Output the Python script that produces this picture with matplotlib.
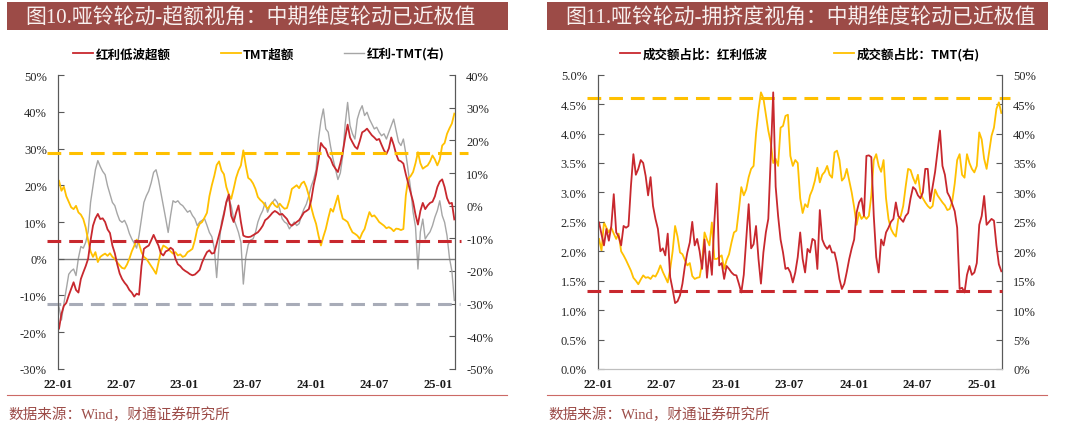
import matplotlib
matplotlib.use('Agg')
import matplotlib.pyplot as plt
from matplotlib.lines import Line2D
from matplotlib.patches import Rectangle
import pandas as pd

plt.rcParams['font.family'] = ['Liberation Serif', 'Noto Sans CJK SC', 'DejaVu Sans']
plt.rcParams['axes.unicode_minus'] = False

# ── data (weekly) ────────────────────────────────────────────────────────────

start_date = '2022-01-04'

# 图10: 超额 (%)
div_excess = [
    -19, -15, -12.8, -12, -10, -8.2, -6.4, -8.5, -9.2, -5.5,
    -3.7, -2, 0, 5, 9, 11, 12.2, 10.8, 11, 10,
    8, 7, 3.6, 1.5, -1.5, -4, -5.5, -6.5, -7.3, -8.5,
    -9.2, -10.3, -9.5, -9.8, -2, 2.7, 3.2, 3.6, 5, 6.5,
    5, 3.6, 1.5, 0.9, 2, 2.3, 3, 2.5, 0, -1.5,
    -2, -2.8, -3.3, -3.7, -4.2, -4.5, -4.3, -3.7, -3, -1,
    0.5, 1.8, 2.3, 1.4, 1.6, 4, 6.5, 9, 12, 15.5,
    17.5, 11.7, 10, 12.5, 14.5, 10, 6.3, 6, 5.9, 6,
    6.4, 6.8, 7.2, 8, 9, 10.5, 11, 11.7, 12.5, 13,
    12.6, 12, 12.2, 11.5, 10.8, 9.5, 9, 9.5, 10, 10.5,
    11.5, 12.6, 13, 13.5, 16, 20, 23, 27, 31.5, 30.5,
    29.9, 28, 27.2, 25.5, 24.5, 23.6, 26, 29, 33, 36.5,
    33, 31.7, 30.5, 29.9, 32, 34.4, 34.8, 35.4, 34.5, 33.6,
    33, 32.3, 32.6, 31, 29.5, 28.5, 30, 33, 31, 28.5,
    26.8, 26.5, 25.9, 23, 20.5, 18, 15.5, 12, 9.3, 13,
    15.2, 13.5, 14.5, 15.2, 15.5, 17, 19.5, 21, 21.6, 19.5,
    16.5, 15, 15.2, 10.7,
]
tmt_excess = [
    21.2, 18.5, 19.6, 17, 15.5, 14, 13.5, 14.4, 12.6, 12,
    10.8, 8.5, 5, 2, 0.5, 1.8, -0.9, 0.5, 1, 1.4,
    0.8, 1.5, 0.5, 0, -1, -1.8, -2.5, -2.7, -1.6, 0,
    2, 3.5, 5.2, 4, 1.8, 0.5, 0, -1, -2, -3,
    -4.1, -1, 2, 3.6, 3.2, 2.7, 2, 1.4, 1.8, 0.9,
    1.2, 0.5, 0.8, 1.8, 2.2, 2.7, 5, 8.1, 9.5, 10,
    11.2, 12.5, 17, 20, 22.5, 25.5, 26.5, 24, 23, 19.5,
    17.5, 16.3, 19, 22, 24, 25.4, 29.5, 25.4, 22, 21.5,
    20.5, 19, 16.8, 16, 15.4, 14.5, 13.6, 14.5, 15.4, 14.5,
    14, 15, 14.2, 13.6, 13.8, 16, 19, 19.5, 20, 19.2,
    20.5, 21, 19.5, 17.2, 14, 11.5, 9.5, 6.3, 3.6, 6,
    8.1, 11, 13.6, 12.8, 15, 17.2, 13.5, 10.9, 10.5, 10,
    8.5, 7.2, 6.8, 6.3, 5.4, 7, 8.1, 10.5, 12.7, 11.5,
    11.8, 11, 10, 9.5, 9, 8.3, 8.6, 8.2, 7.5, 8.2,
    8.1, 7.8, 8.1, 17.2, 21.8, 22.5, 23.6, 26, 29, 26,
    24.5, 25, 25.4, 26.5, 28.1, 27, 25.4, 27, 30.8, 31.5,
    34, 35.5, 36.8, 39.5,
]
div_minus_tmt = [
    -31, -35, -30, -25.5, -21, -20, -19.4, -21.4, -16, -12.5,
    -13, -11.2, -8, 1, 6.1, 11, 13.8, 12, 10.5, 9.5,
    6.1, 3.5, 1, 0, -2.5, -4.5, -5.1, -4.5, -6.1, -8.5,
    -10.2, -11.5, -13, -9, -4, 1, 3, 4.5, 7, 10.2,
    11, 8, 4, 0, -4, -8.2, -3, 1.5, 1, 1.5,
    0.5, 0, -1, -2, -1.5, -3, -4, -6.1, -5, -4.5,
    -4, -6, -8.2, -9.5, -13, -22, -12, -5, -2, 1,
    2, 0, -4, -6, -8.2, -11.2, -24, -15.9, -12, -10.5,
    -10.2, -8.2, -5, -3, -1.5, 1, -2, 0, 1, 2,
    1, -1, -4, -5, -5.5, -7.1, -6, -5, -6.1, -5.5,
    -3, -1, 0.5, 3, 6, 8, 11, 20.4, 26, 29.6,
    23.5, 22.5, 18, 14.3, 11.2, 8, 10, 15.3, 25, 31.6,
    24.5, 22, 20.4, 26.5, 29, 30.6, 27.6, 28.6, 26.5, 25,
    23.5, 24, 22.5, 21.4, 22, 20.4, 22.5, 24.5, 26.5, 23,
    19.5, 18.4, 20.4, 16, 10.5, 5.1, -2, -6.5, -19.4, -8,
    -4.1, -10.2, -9, -8, -6.1, -3.5, -1.5, 1.5, -3, -5.1,
    -9.2, -16, -20, -29,
]
# reference levels: TMT超额 high, 红利低波超额 low (left), 红利-TMT low (right)
lvl_tmt_excess = 28.7
lvl_div_excess = 4.9
lvl_spread = -30

# 图11: 成交额占比 (%)
div_share = [
    2.49, 2.29, 2.1, 2.38, 2.18, 2.43, 2.97, 2.32, 2.25, 2.1,
    2.43, 2.4, 2.43, 3.11, 3.65, 3.3, 3.4, 3.55, 3.5, 3.28,
    2.95, 3.26, 2.77, 2.55, 2.38, 2.0, 2.05, 1.93, 2.3, 1.56,
    1.35, 1.12, 1.15, 1.25, 1.45, 1.75, 1.98, 2.15, 2.5, 2.1,
    2.21, 2.0, 1.7, 2.2, 1.55, 2.0, 1.6, 2.5, 3.15, 1.76,
    1.8, 1.53, 1.75, 1.7, 1.64, 1.6, 1.59, 1.45, 1.3, 1.6,
    2.2, 2.8, 2.05, 2.12, 2.43, 1.87, 1.45, 1.98, 2.32, 2.55,
    3.6, 4.7, 3.1, 2.6, 2.2, 1.98, 1.7, 1.72, 1.64, 1.47,
    1.64, 1.9, 2.32, 1.87, 1.64, 2.04, 1.98, 2.21, 2.18, 1.7,
    2.7, 2.2, 2.1, 2.04, 2.1, 1.98, 1.98, 1.8, 1.53, 1.36,
    1.45, 1.65, 1.87, 2.05, 2.2, 2.66, 2.83, 2.9, 2.6, 3.62,
    3.63, 3.6, 2.6, 1.9, 1.64, 2.2, 2.1, 2.32, 2.4, 2.5,
    2.55, 2.83, 2.6, 2.55, 2.5, 2.6, 2.65, 2.9, 3.09, 3.05,
    2.95, 2.9, 3.0, 3.4, 3.4, 2.85, 3.1, 3.35, 3.7, 4.05,
    3.45, 3.3, 3.0, 2.92, 2.8, 2.68, 2.4, 1.36, 1.38, 1.3,
    1.6, 1.75, 1.6, 1.64, 1.8, 2.45, 2.6, 2.94, 2.45, 2.5,
    2.55, 2.52, 2.1, 1.78, 1.66,
]
tmt_share = [
    22.1, 20.1, 24.9, 24, 23.2, 24, 23, 22.1, 23, 20,
    19.3, 18.5, 17.6, 16.7, 15.5, 15, 14.4, 15.2, 15.9, 15.5,
    15.6, 15.3, 15.9, 15.7, 16.5, 17.6, 16.5, 15.6, 14.7, 17,
    20, 24.3, 22.5, 19.8, 19.5, 18.5, 17.6, 18, 15.8, 15.3,
    15.5, 15.6, 18, 23.2, 22, 21, 24.9, 18.7, 18.7, 19,
    19.3, 17, 18.5, 19.5, 21.5, 23.2, 23.5, 27, 30.9, 29.5,
    30.5, 32.6, 34, 34.5, 40, 44, 47, 46, 43.2, 40.5,
    38.5, 35, 35.7, 34.5, 41, 41.3, 43, 43.2, 36.2, 34.5,
    35.5, 35, 29, 26.5, 28, 27.5, 29.5, 30.5, 32, 34.2,
    31.7, 33, 33.5, 34.5, 33, 32.5, 36.8, 37.1, 35.5, 32,
    32.5, 34, 32, 30, 27.5, 24.5, 26.6, 25.5, 26, 25.5,
    26, 29.5, 35.5, 36.5, 34.5, 33.5, 35.5, 29, 25.5, 23.8,
    23, 22.5, 25.5, 26, 27.7, 31, 34, 33.8, 32.5, 31.5,
    33, 30, 29, 28.3, 27.7, 27.3, 27.7, 30.5, 29.5, 28.9,
    28.3, 27.8, 27, 27.2, 28.5, 31.5, 35.5, 36.5, 33, 32.5,
    36.5, 35, 34, 33.4, 34.5, 40.2, 39, 35.7, 34, 36.8,
    39.6, 41, 44.2, 45.3, 43.5,
]
lvl_div_share = 1.32
lvl_tmt_share = 46

tick_dates = ['2022-01-01', '2022-07-01', '2023-01-01', '2023-07-01',
              '2024-01-01', '2024-07-01', '2025-01-01']
tick_labels = ['22-01', '22-07', '23-01', '23-07', '24-01', '24-07', '25-01']

# ── style ────────────────────────────────────────────────────────────────────

RED = '#C8282E'
YELLOW = '#FFC000'
GRAY = '#A6A6A6'
DASH_GRAY = '#A8ACB8'
TITLE_BG = '#9C4B47'
SPINE = '#595959'
LEG_FONT = {'family': 'Noto Sans CJK SC', 'weight': 'bold', 'size': 9}


def frame(fig, x0, title):
    fig.add_artist(Rectangle((x0, 0.927), 0.464, 0.066, transform=fig.transFigure,
                             facecolor=TITLE_BG, edgecolor='none'))
    fig.text(x0 + 0.0166, 0.958, title, color='#F8F0EF', fontsize=15, va='center')
    fig.add_artist(Line2D([x0, x0 + 0.463], [0.0726, 0.0726], transform=fig.transFigure,
                          color='#CC6A66', lw=0.8))
    fig.text(x0 + 0.001, 0.028, '数据来源：Wind，财通证券研究所', color=TITLE_BG,
             fontsize=10.5, va='center')


def style_axes(ax, axr, yl, yr, fl, fr, bottom_spine):
    for a in (ax, axr):
        a.spines['top'].set_visible(False)
        a.spines['bottom'].set_visible(bottom_spine)
        a.spines['bottom'].set_color('#BFBFBF')
        a.spines['left'].set_color(SPINE)
        a.spines['right'].set_color(SPINE)
    ax.set_ylim(yl[0], yl[-1])
    axr.set_ylim(yr[0], yr[-1])
    ax.set_yticks(yl)
    ax.set_yticklabels([fl(v) for v in yl], fontsize=9, color='#262626')
    axr.set_yticks(yr)
    axr.set_yticklabels([fr(v) for v in yr], fontsize=9, color='#262626')
    ax.tick_params(axis='y', direction='in', length=4, pad=8, color=SPINE)
    axr.tick_params(axis='y', direction='in', length=4, pad=8, color=SPINE)
    td = pd.to_datetime(tick_dates)
    ax.set_xticks(td)
    ax.set_xticklabels(tick_labels, fontsize=9, fontweight='bold', color='#1A1A1A')
    ax.tick_params(axis='x', length=0, pad=6.5)
    axr.tick_params(axis='x', length=0)


def hlevel(ax, y, color, x_end=1.02):
    ax.plot([-0.028, x_end], [y, y], transform=ax.get_yaxis_transform(),
            color=color, lw=2.2, dashes=(4.5, 2.6), clip_on=False, zorder=5)


fig = plt.figure(figsize=(10.8, 4.27), dpi=100)

# ── 图10 ────────────────────────────────────────────────────────────────────
frame(fig, 0.0065, '图10.哑铃轮动-超额视角：中期维度轮动已近极值')

d1 = pd.date_range(start_date, periods=len(div_excess), freq='7D')
ax1 = fig.add_axes([0.0537, 0.1335, 0.3676, 0.6885])
ax1r = ax1.twinx()
ax1.set_zorder(ax1r.get_zorder() + 1)
ax1.patch.set_visible(False)

g, = ax1r.plot(d1, div_minus_tmt, color=GRAY, lw=1.0, label='红利-TMT(右)')
ax1.axhline(0, color='#7F7F7F', lw=1.0, zorder=1)
y, = ax1.plot(d1, tmt_excess, color=YELLOW, lw=1.3, label='TMT超额')
r, = ax1.plot(d1, div_excess, color=RED, lw=1.3, label='红利低波超额')
hlevel(ax1, lvl_tmt_excess, YELLOW, 1.033)
hlevel(ax1, lvl_div_excess, RED, 1.015)
hlevel(ax1r, lvl_spread, DASH_GRAY, 1.013)

ax1.set_xlim(pd.Timestamp('2022-01-01'), pd.Timestamp('2025-02-20'))
style_axes(ax1, ax1r, list(range(-30, 51, 10)), list(range(-50, 41, 10)),
           lambda v: f'{v}%', lambda v: f'{v}%', bottom_spine=False)
ax1.legend(handles=[r, y, g], ncol=3, loc='center', bbox_to_anchor=(0.506, 1.072),
           frameon=False, prop=LEG_FONT, handlelength=1.6, handletextpad=0.2,
           columnspacing=4.0)

# ── 图11 ────────────────────────────────────────────────────────────────────
frame(fig, 0.5065, '图11.哑铃轮动-拥挤度视角：中期维度轮动已近极值')

d2 = pd.date_range(start_date, periods=len(div_share), freq='7D')
ax2 = fig.add_axes([0.5537, 0.1335, 0.3741, 0.6892])
ax2r = ax2.twinx()
ax2.set_zorder(ax2r.get_zorder() + 1)
ax2.patch.set_visible(False)

t, = ax2r.plot(d2, tmt_share, color=YELLOW, lw=1.3, label='成交额占比：TMT(右)')
s, = ax2.plot(d2, div_share, color=RED, lw=1.3, label='成交额占比：红利低波')
hlevel(ax2, lvl_div_share, RED, 1.0)
hlevel(ax2r, lvl_tmt_share, YELLOW, 1.02)

ax2.set_xlim(pd.Timestamp('2022-01-01'), pd.Timestamp('2025-02-27'))
style_axes(ax2, ax2r, [i * 0.5 for i in range(11)], list(range(0, 51, 5)),
           lambda v: f'{v:.1f}%', lambda v: f'{v}%', bottom_spine=True)
ax2.legend(handles=[s, t], ncol=2, loc='center', bbox_to_anchor=(0.5, 1.072),
           frameon=False, prop=LEG_FONT, handlelength=1.6, handletextpad=0.2,
           columnspacing=5.3)

fig.savefig('out.png', dpi=100)
